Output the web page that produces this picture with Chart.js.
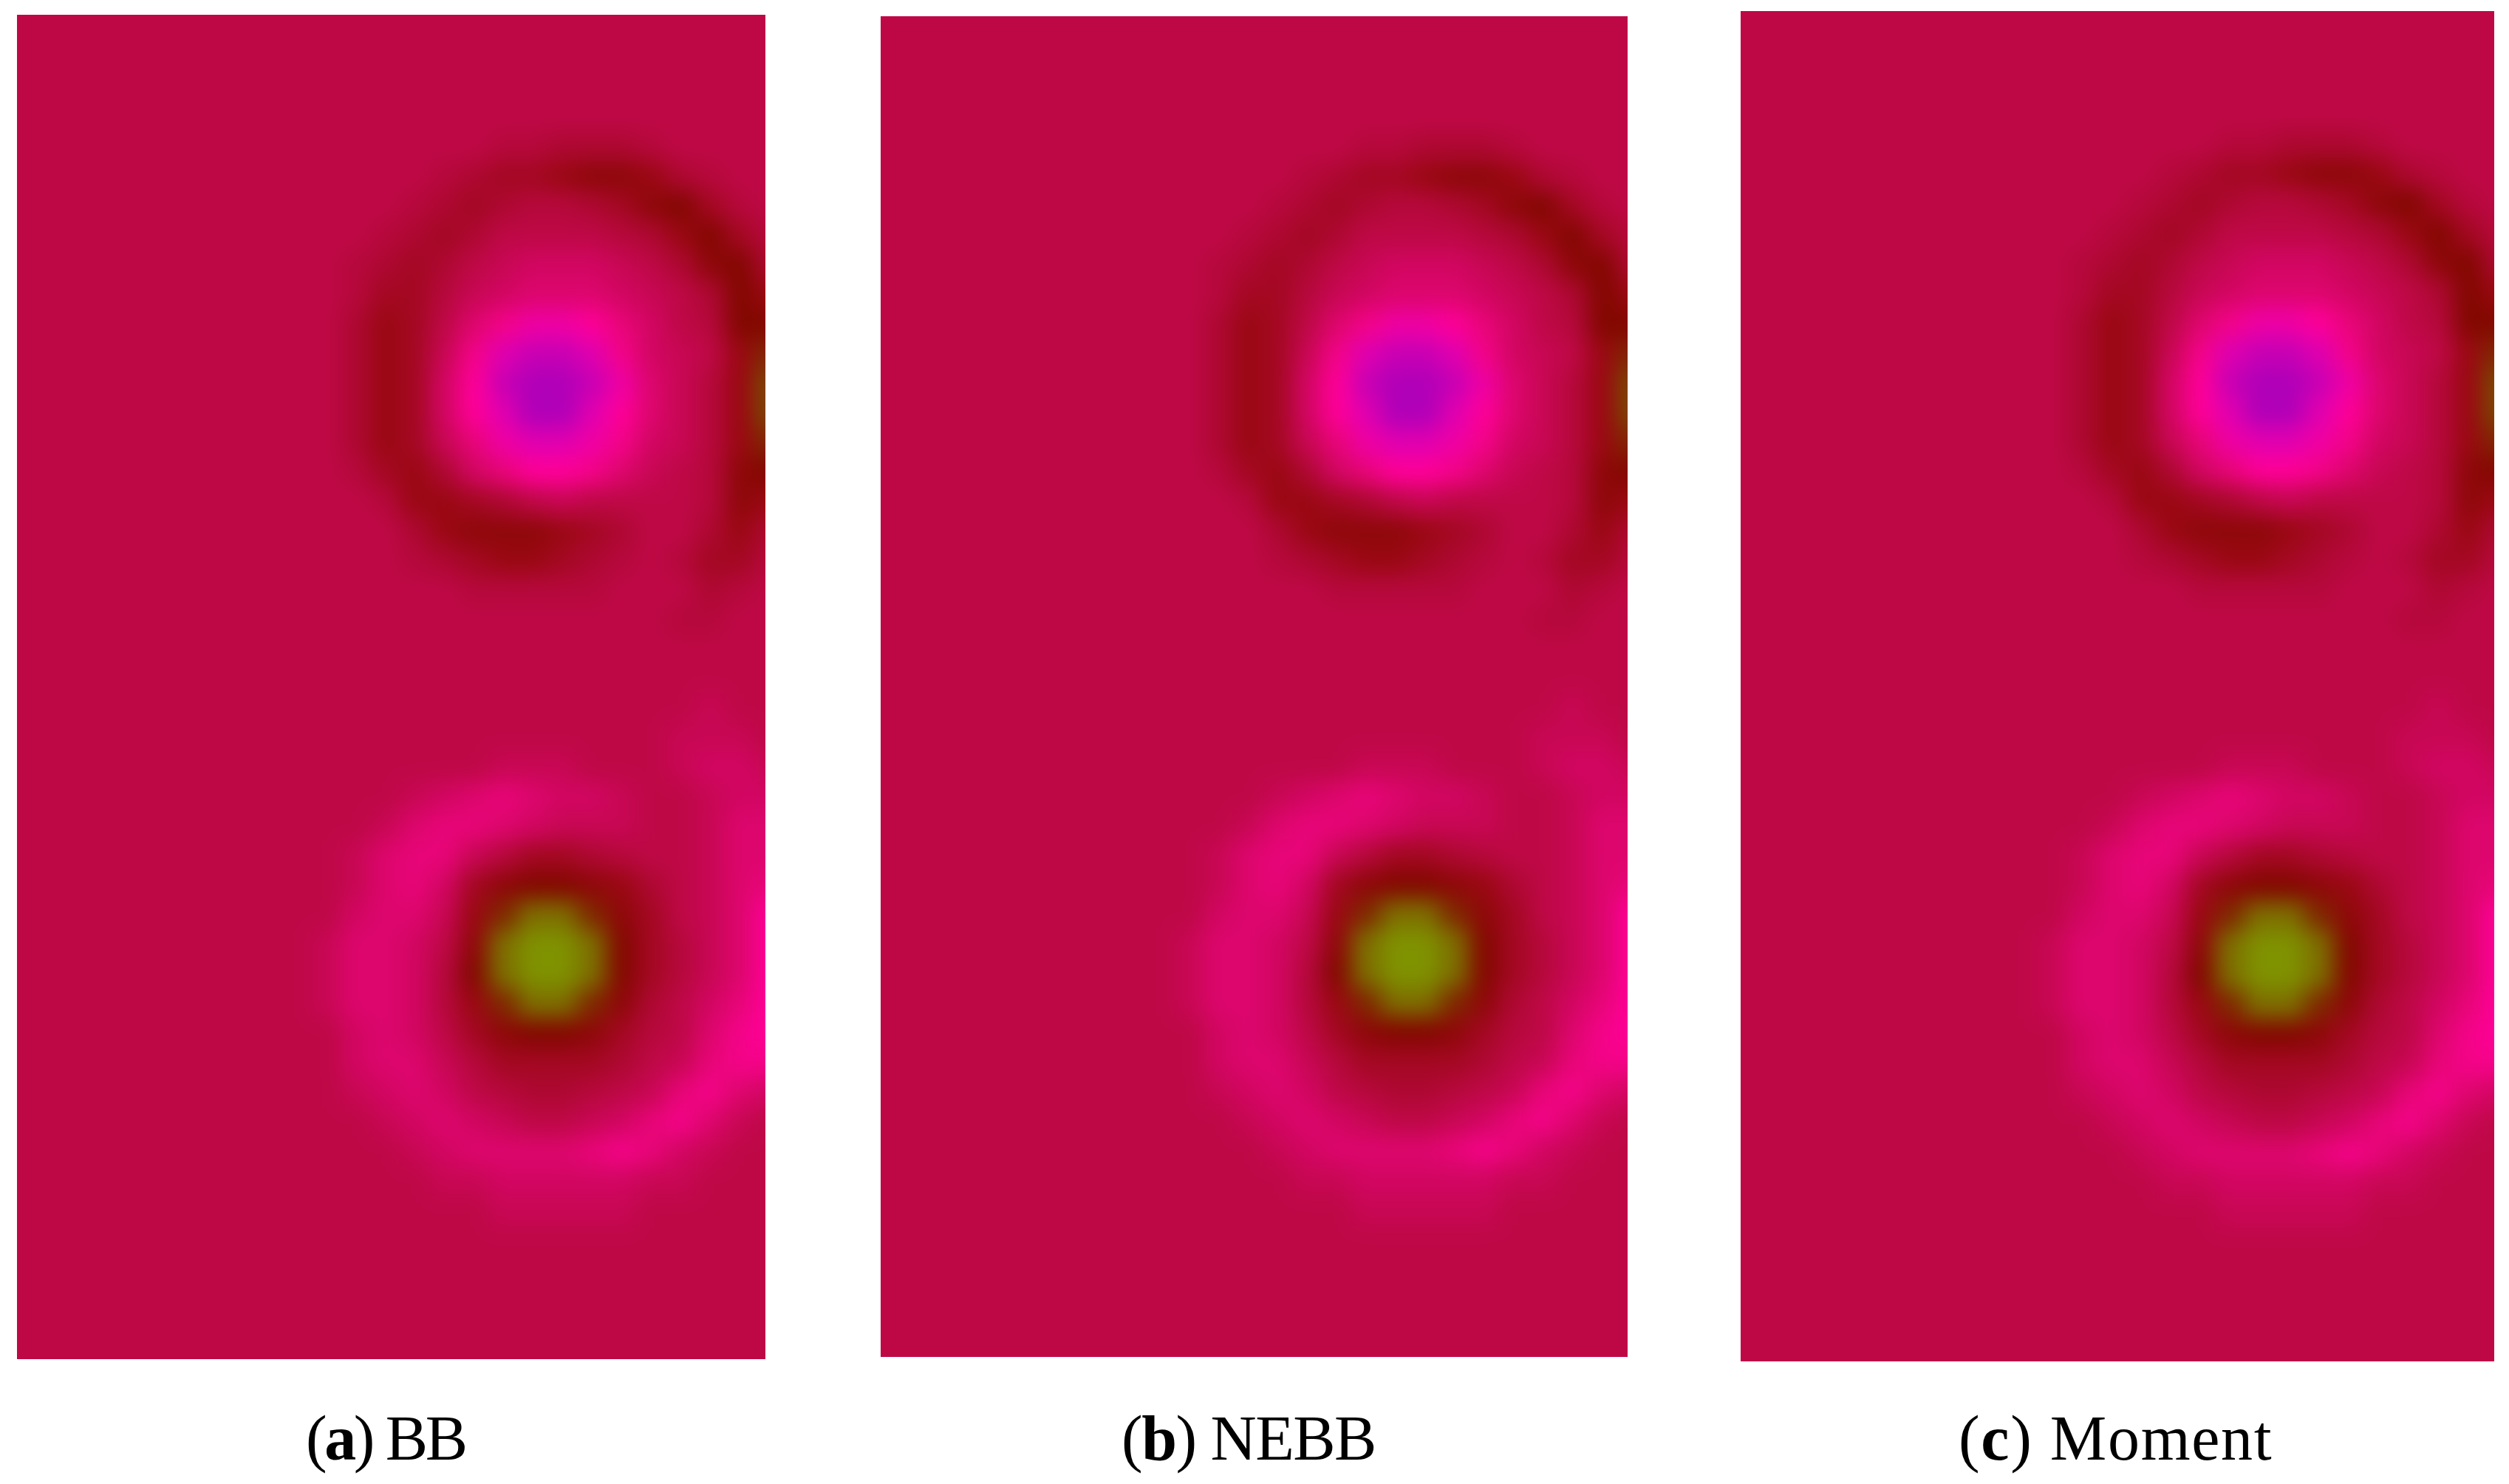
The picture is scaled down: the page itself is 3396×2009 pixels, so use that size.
<!DOCTYPE html>
<html>
<head>
<meta charset="utf-8">
<script src="https://cdn.jsdelivr.net/npm/chart.js@4"></script>
<style>
  html, body { margin: 0; background: #fff; }
  body { position: relative; width: 3396px; height: 2009px; overflow: hidden; }
  .panel { position: absolute; overflow: hidden; background: #be0846; }
  .panel canvas { position: absolute; filter: blur(15px); }
  .caption { position: absolute; top: 1897px; font: 86px/100px "Liberation Serif", serif; color: #000; white-space: nowrap; }
</style>
</head>
<body>
<script>
// cell columns of the read grid, left to right (cell index across the panel)
var columns = [9, 10, 11, 12, 13, 14, 15, 16, 17, 18, 19, 20, 21, 22, 23, 24, 25, 26]

// level for each cell, -10 olive ... 0 crimson ... +10 purple
// upper vortex, first row is cell row 4
var upperFirstRow = 4
var upperVortex = [
  [0, 0, 0, 0, 0, 0, 0, -1, -1, -2, -2, -2, -1, 0, 0, 0, 0, 0],
  [0, 0, 0, 0, 0, -1, -2, -3, -3, -4, -5, -5, -4, -2, -1, 0, 0, 0],
  [0, 0, 0, 0, -1, -2, -3, -2, -1, -1, -2, -3, -5, -6, -3, -1, 0, 0],
  [0, 0, 0, -1, -2, -3, -2, 0, 0, 0, 0, -1, -2, -4, -6, -3, -1, 0],
  [0, 0, -1, -2, -3, -2, 0, 1, 2, 2, 2, 1, 0, -2, -5, -6, -2, -1],
  [0, 0, -1, -3, -3, -1, 1, 2, 3, 3, 3, 2, 1, 0, -2, -6, -4, -2],
  [0, 0, -2, -4, -3, 0, 3, 5, 7, 7, 6, 4, 2, 0, -1, -6, -6, -3],
  [0, 0, -2, -4, -3, 1, 5, 8, 9, 9, 8, 5, 2, 1, 0, -4, -7, -4],
  [0, 0, -2, -4, -3, 2, 6, 9, 10, 10, 9, 7, 3, 1, -1, -4, -8, -7],
  [0, 0, -2, -4, -3, 2, 6, 8, 10, 10, 8, 6, 3, 1, -1, -4, -8, -8],
  [0, 0, -2, -4, -3, 1, 4, 7, 8, 8, 7, 5, 2, 1, -1, -4, -7, -7],
  [0, 0, -1, -3, -4, -2, 2, 4, 6, 6, 5, 3, 1, 0, -1, -5, -6, -5],
  [0, 0, 0, -1, -4, -4, -3, -2, 0, 1, 0, 0, 0, 0, -1, -5, -4, -3],
  [0, 0, 0, 0, -2, -4, -5, -5, -5, -4, -3, -2, 0, 0, -2, -4, -2, -1],
  [0, 0, 0, 0, -1, -2, -3, -4, -4, -3, -2, -1, 0, -1, -3, -3, -1, 0],
  [0, 0, 0, 0, 0, 0, -1, -1, -1, -1, -1, 0, 0, 0, -2, -1, 0, 0],
  [0, 0, 0, 0, 0, 0, 0, 0, 0, 0, 0, 0, 0, -1, -1, 0, 0, 0]
]

// lower vortex, first row is cell row 22
var lowerFirstRow = 22
var lowerVortex = [
  [0, 0, 0, 0, 0, 0, 0, 0, 0, 0, 0, 0, 0, 0, 0, 0, 0, 0],
  [0, 0, 0, 0, 0, 0, 0, 0, 0, 0, 0, 0, 0, 0, 1, 0, 0, 0],
  [0, 0, 0, 0, 0, 0, 0, 0, 0, 0, 0, 0, 0, 1, 1, 1, 0, 0],
  [0, 0, 0, 0, 0, 0, 0, 1, 1, 1, 0, 0, 0, 1, 2, 2, 1, 1],
  [0, 0, 0, 0, 1, 2, 3, 4, 3, 2, 2, 1, 0, 0, 1, 2, 2, 2],
  [0, 0, 0, 1, 3, 4, 4, 3, 2, 1, 1, 1, 0, 0, 1, 3, 3, 3],
  [0, 0, 1, 3, 4, 4, 1, -1, -3, -3, -2, -1, 0, 0, 1, 3, 3, 3],
  [0, 0, 1, 3, 4, 2, -3, -5, -6, -6, -5, -4, -2, 0, 1, 3, 4, 4],
  [0, 0, 2, 3, 3, 1, -4, -7, -9, -9, -7, -5, -3, 0, 1, 3, 6, 6],
  [0, 1, 3, 3, 2, 0, -5, -9, -10, -10, -9, -6, -3, -1, 1, 3, 6, 6],
  [0, 1, 3, 3, 2, -1, -6, -9, -10, -10, -9, -6, -3, -1, 1, 3, 6, 6],
  [0, 1, 3, 3, 2, -1, -4, -7, -9, -9, -7, -5, -2, 0, 2, 4, 6, 6],
  [0, 0, 2, 3, 2, 0, -3, -5, -6, -6, -5, -3, -1, 0, 3, 5, 6, 6],
  [0, 0, 2, 3, 3, 1, -1, -3, -3, -3, -3, -2, 0, 1, 4, 5, 5, 5],
  [0, 0, 1, 2, 3, 2, 0, -1, -2, -2, -1, 0, 1, 4, 5, 3, 2, 2],
  [0, 0, 0, 1, 2, 3, 2, 1, 0, 0, 1, 2, 4, 5, 3, 1, 0, 0],
  [0, 0, 0, 0, 1, 2, 3, 3, 3, 3, 4, 5, 4, 2, 1, 0, 0, 0],
  [0, 0, 0, 0, 0, 1, 1, 2, 2, 2, 2, 2, 1, 1, 0, 0, 0, 0],
  [0, 0, 0, 0, 0, 0, 0, 1, 1, 1, 1, 1, 0, 0, 0, 0, 0, 0]
]

var panelNames = ["BB", "NEBB", "Moment"]
var panelLetters = ["a", "b", "c"]
var panelBoxes = [
  { left: 23, top: 20, width: 1013, height: 1820 },
  { left: 1192, top: 22, width: 1011, height: 1815 },
  { left: 2356, top: 15, width: 1020, height: 1828 }
]
var captionLeft = [414, 1518, 2651]
var captionSpacing = [-3.5, -1.5, 1.7]

var colorStops = [
  [-10, [127, 146, 0]], [-8, [122, 74, 0]], [-6, [130, 8, 0]], [-4, [154, 8, 18]], [-2, [174, 8, 50]],
  [0, [190, 8, 70]], [2, [210, 6, 98]], [4, [232, 5, 120]], [6, [255, 0, 152]], [8, [224, 0, 176]], [10, [176, 0, 184]]
]

function levelColor(v) {
  var i = Math.min(Math.floor((v + 10) / 2), colorStops.length - 2)
  var t = (v - colorStops[i][0]) / 2
  var a = colorStops[i][1], b = colorStops[i + 1][1]
  return "rgb(" + a.map(function(c, k) { return Math.round(c + (b[k] - c) * t) }).join(",") + ")"
}

function cellsFrom(rows, firstRow) {
  var cells = []
  rows.forEach(function(row, r) {
    row.forEach(function(v, c) {
      cells.push({ x: columns[c] + 0.5, y: firstRow + r + 0.5, v: v })
    })
  })
  return cells
}

var field = cellsFrom(upperVortex, upperFirstRow).concat(cellsFrom(lowerVortex, lowerFirstRow))

// panel is 25.33 x 45.5 cells, 2 spare cells each side are hidden so the blur has no edge
var xRange = { min: -2, max: 27.33 }
var yRange = { min: -2, max: 47.5 }

var paintBackground = {
  id: "paintBackground",
  beforeDraw: function(chart) {
    chart.ctx.fillStyle = "rgb(190,8,70)"
    chart.ctx.fillRect(0, 0, chart.width, chart.height)
  }
}

panelBoxes.forEach(function(box, i) {
  var div = document.createElement("div")
  div.className = "panel"
  div.style.cssText = "left:" + box.left + "px;top:" + box.top + "px;width:" + box.width + "px;height:" + box.height + "px"
  var canvas = document.createElement("canvas")
  var mx = box.width * 2 / 25.33, my = box.height * 2 / 45.5
  canvas.width = Math.round(box.width + 2 * mx)
  canvas.height = Math.round(box.height + 2 * my)
  canvas.style.left = -mx + "px"
  canvas.style.top = -my + "px"
  div.appendChild(canvas)
  document.body.appendChild(div)

  new Chart(canvas.getContext("2d"), {
    type: "scatter",
    data: {
      datasets: [{
        label: panelNames[i],
        data: field,
        pointStyle: "rect",
        borderWidth: 0,
        backgroundColor: function(ctx) { return ctx.raw ? levelColor(ctx.raw.v) : "transparent" },
        pointRadius: function(ctx) {
          var sx = ctx.chart.scales.x
          return (sx.width / (xRange.max - xRange.min)) * 1.08 * Math.SQRT1_2
        }
      }]
    },
    options: {
      responsive: false,
      animation: false,
      events: [],
      layout: { padding: 0 },
      scales: {
        x: { type: "linear", min: xRange.min, max: xRange.max, display: false },
        y: { type: "linear", min: yRange.min, max: yRange.max, reverse: true, display: false }
      },
      plugins: { legend: { display: false }, tooltip: { enabled: false } }
    },
    plugins: [paintBackground]
  })

  var cap = document.createElement("div")
  cap.className = "caption"
  cap.style.left = captionLeft[i] + "px"
  cap.style.letterSpacing = captionSpacing[i] + "px"
  cap.innerHTML = "(<b>" + panelLetters[i] + "</b>) " + panelNames[i]
  document.body.appendChild(cap)
})
</script>
</body>
</html>
